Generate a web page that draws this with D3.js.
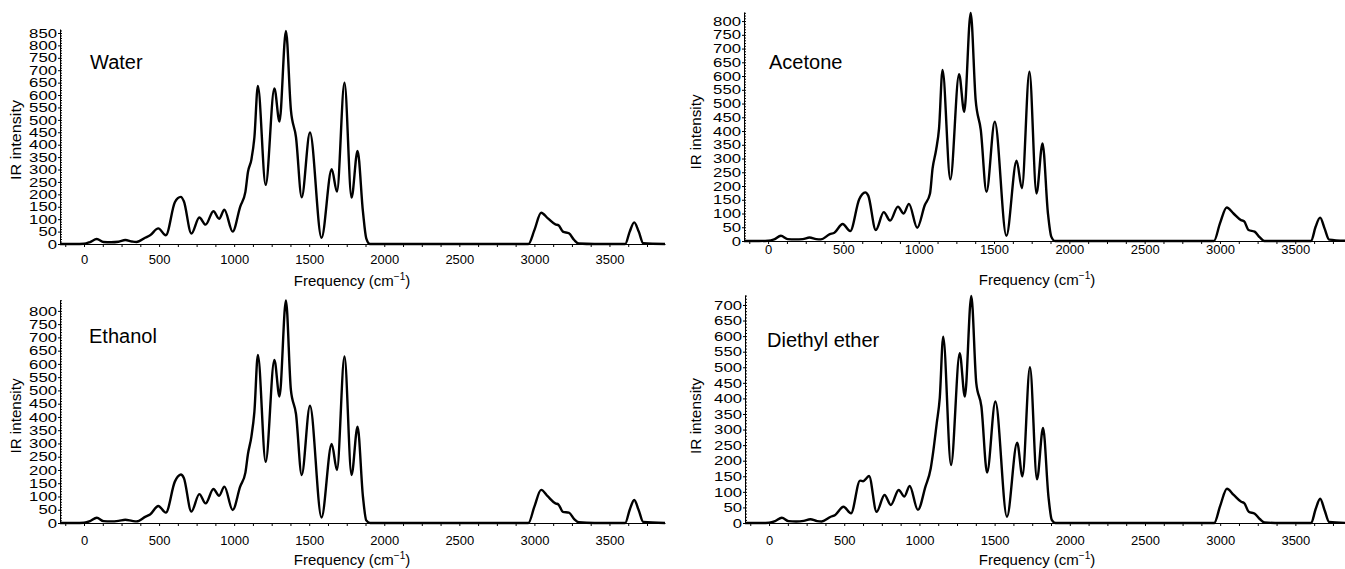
<!DOCTYPE html>
<html>
<head>
<meta charset="utf-8">
<script src="https://cdn.jsdelivr.net/npm/d3@7"></script>
<style>
  body { margin: 0; background: #fff; }
  svg { display: block; font-family: "Liberation Sans", Arial, Helvetica, sans-serif; }
</style>
</head>
<body>
<svg id="chart" width="1345" height="569"></svg>
<script>
// frequency grid (cm^-1) shared by all four spectra
var freq = [-160, -60, 0, 40, 85, 130, 180, 230, 275, 320, 350, 410, 440, 495, 545,
  605, 625, 645, 665, 715, 768, 810, 862, 900, 935, 990, 1040, 1075, 1092, 1115, 1135,
  1158, 1210, 1268, 1302, 1345, 1378, 1412, 1450, 1505, 1582, 1650, 1685, 1735, 1782,
  1822, 1858, 1880, 1905, 2000, 2500, 2960, 3000, 3045, 3090, 3140, 3160, 3190, 3230,
  3265, 3295, 3400, 3605, 3635, 3665, 3695, 3725, 3870];

var water = [0, 0, 1, 8, 20, 8, 7, 9, 16, 10, 8, 26, 35, 63, 35,
  168, 185, 190, 172, 42, 107, 78, 132, 102, 138, 50, 150, 210, 290, 340, 430,
  637, 238, 627, 493, 858, 540, 430, 188, 449, 25, 301, 211, 650, 187,
  375, 130, 23, 0, 0, 0, 0, 56, 126, 103, 79, 76, 50, 43,
  16, 2, 0, 0, 50, 87, 50, 3, 0];

var acetone = [0, 0, 1, 6, 19, 7, 6, 7, 13, 7, 6, 25, 30, 62, 36,
  152, 170, 177, 165, 40, 105, 74, 125, 100, 135, 48, 130, 173, 264, 330, 410,
  622, 224, 607, 470, 830, 513, 404, 179, 434, 19, 292, 192, 616, 173,
  355, 100, 16, 0, 0, 0, 0, 64, 122, 100, 76, 72, 40, 34,
  13, 0, 0, 0, 52, 85, 45, 5, 0];

var ethanol = [0, 0, 1, 7, 20, 7, 6, 8, 12, 8, 6, 24, 32, 64, 39,
  156, 175, 183, 170, 43, 109, 74, 128, 103, 137, 49, 137, 190, 260, 326, 420,
  634, 231, 615, 477, 839, 502, 411, 181, 442, 21, 298, 200, 628, 181,
  363, 99, 10, 0, 0, 0, 0, 62, 125, 100, 74, 70, 42, 39,
  15, 3, 0, 0, 50, 87, 48, 4, 0];

var diethylEther = [0, 0, 1, 6, 17, 6, 5, 7, 12, 6, 5, 20, 26, 52, 31,
  136, 134, 142, 151, 36, 90, 58, 106, 85, 119, 42, 117, 175, 230, 320, 400,
  598, 186, 545, 406, 729, 449, 374, 162, 390, 20, 258, 150, 500, 140,
  305, 85, 10, 0, 0, 0, 0, 55, 110, 90, 68, 64, 36, 30,
  12, 2, 0, 0, 45, 78, 40, 3, 0];

var titles = ["Water", "Acetone", "Ethanol", "Diethyl ether"];
var yTickMax = [850, 800, 800, 700];
var xDomain = [-160, 3870];

// panel geometry
var panels = [
  { values: water,        left: 60,  right: 665,  bottom: 244, top: 29,  yMax: 866, xPad: 8,  titleX: 90,  titleY: 69,  yLabX: 20.5, yLabY: 140, yLabLen: 80, xLabX: 352,  xLabY: 286 },
  { values: acetone,      left: 744, right: 1351, bottom: 241, top: 12,  yMax: 833, xPad: 1,  titleX: 769, titleY: 69,  yLabX: 701,  yLabY: 132, yLabLen: 75, xLabX: 1037, xLabY: 285 },
  { values: ethanol,      left: 60,  right: 665,  bottom: 523, top: 300, yMax: 841, xPad: 10, titleX: 89,  titleY: 343, yLabX: 20.5, yLabY: 416, yLabLen: 75, xLabX: 352,  xLabY: 565 },
  { values: diethylEther, left: 745, right: 1351, bottom: 523, top: 295, yMax: 732, xPad: 10, titleX: 767, titleY: 347, yLabX: 701,  yLabY: 416, yLabLen: 76, xLabX: 1037, xLabY: 565 }
];

var svg = d3.select("#chart");

panels.forEach(function(p, i) {
  var g = svg.append("g");

  var x = d3.scaleLinear().domain(xDomain).range([p.left, p.right]);
  var y = d3.scaleLinear().domain([0, p.yMax]).range([p.bottom, p.top]);

  //x axis: ticks every 125, labels every 500
  var xTicks = d3.range(-125, xDomain[1], 125);
  var xAxis = g.append("g")
    .attr("transform", "translate(0," + p.bottom + ")")
    .call(d3.axisBottom(x)
      .tickValues(xTicks)
      .tickSize(3)
      .tickSizeOuter(0)
      .tickPadding(p.xPad)
      .tickFormat(function(d) { return d % 500 === 0 ? d : ""; }));
  xAxis.selectAll("text").style("font-size", "13px").attr("fill", "#000");
  xAxis.selectAll("line").attr("stroke", "#000");
  xAxis.select(".domain").attr("stroke", "#000");

  //y axis: minor ticks every 10, labels every 50
  g.append("g")
    .attr("transform", "translate(" + p.left + ",0)")
    .call(d3.axisLeft(y)
      .tickValues(d3.range(0, p.yMax, 10))
      .tickSize(-2)
      .tickSizeOuter(0)
      .tickFormat(""))
    .call(function(a) { a.selectAll("line").attr("stroke", "#000"); a.select(".domain").remove(); });

  var yAxis = g.append("g")
    .attr("transform", "translate(" + p.left + ",0)")
    .call(d3.axisLeft(y)
      .tickValues(d3.range(0, yTickMax[i] + 1, 50))
      .tickSize(2)
      .tickSizeOuter(0)
      .tickPadding(1));
  yAxis.selectAll("line").attr("stroke", "#000");
  yAxis.select(".domain").attr("stroke", "#000");
  yAxis.selectAll("text")
    .style("font-size", "13px")
    .attr("fill", "#000")
    .attr("textLength", function(d) { return String(d).length * 9.3; })
    .attr("lengthAdjust", "spacingAndGlyphs");

  // spectrum
  var line = d3.line()
    .x(function(d) { return x(d[0]); })
    .y(function(d) { return y(d[1]); })
    .curve(d3.curveMonotoneX);

  g.append("path")
    .datum(freq.map(function(f, k) { return [f, p.values[k]]; }))
    .attr("d", line)
    .attr("fill", "none")
    .attr("stroke", "#000")
    .attr("stroke-width", 2.4)
    .attr("stroke-linejoin", "round");

  // panel title
  g.append("text")
    .attr("x", p.titleX)
    .attr("y", p.titleY)
    .style("font-size", "20px")
    .text(titles[i]);

  // y label
  g.append("text")
    .attr("transform", "translate(" + p.yLabX + "," + p.yLabY + ") rotate(-90)")
    .attr("text-anchor", "middle")
    .attr("textLength", p.yLabLen)
    .attr("lengthAdjust", "spacingAndGlyphs")
    .style("font-size", "15px")
    .text("IR intensity");

  // x label with superscript
  var xl = g.append("text")
    .attr("x", p.xLabX)
    .attr("y", p.xLabY)
    .attr("text-anchor", "middle")
    .style("font-size", "15px");
  xl.append("tspan").text("Frequency (cm");
  xl.append("tspan").attr("dy", -6).style("font-size", "10px").text("\u22121");
  xl.append("tspan").attr("dy", 6).text(")");
});
</script>
</body>
</html>
